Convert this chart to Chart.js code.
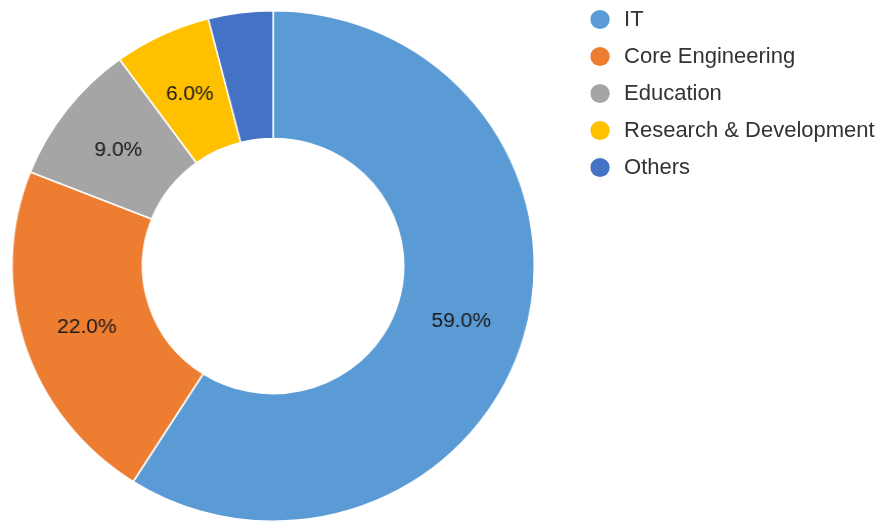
<!DOCTYPE html>
<html>
<head>
<meta charset="utf-8">
<script src="https://cdn.jsdelivr.net/npm/chart.js@4.4.1/dist/chart.umd.min.js"></script>
<style>
  html, body { margin: 0; padding: 0; background: #fff; overflow: hidden; }
  #wrap { position: relative; width: 880px; height: 523px; transform: scaleX(1.023); transform-origin: 0 0; }
  #legend { position: absolute; left: 577px; top: 4px; font-family: "Liberation Sans", Arial, sans-serif; font-size: 21.5px; color: #333; }
  #legend div { height: 37px; line-height: 30px; white-space: nowrap; }
  #legend span { display: inline-block; width: 19px; height: 19px; border-radius: 50%; vertical-align: -3px; margin-right: 14px; }
</style>
</head>
<body>
<div id="wrap">
  <canvas id="c" width="880" height="523"></canvas>
  <div id="legend"></div>
</div>
<script>
// ── Données ────────────────────────────────────────────
const LABELS = ['IT', 'Core Engineering', 'Education', 'Research & Development', 'Others'];
const VALUES = [59, 22, 9, 6, 4];
const COLORS = ['#5B9BD5', '#ED7D31', '#A5A5A5', '#FFC000', '#4472C4'];

// Pourcentages au milieu de l'anneau (cachés pour les petites tranches)
const pctLabels = {
  id: 'pctLabels',
  afterDatasetsDraw(chart) {
    const { ctx } = chart;
    const meta = chart.getDatasetMeta(0);
    const total = VALUES.reduce((a, b) => a + b, 0);
    ctx.save();
    ctx.font = '20.5px "Liberation Sans", Arial, sans-serif';
    ctx.fillStyle = '#1a1a1a';
    ctx.textAlign = 'center';
    ctx.textBaseline = 'middle';
    meta.data.forEach((arc, i) => {
      const pct = VALUES[i] / total * 100;
      if (pct < 5) return;
      const p = arc.tooltipPosition();
      ctx.fillText(pct.toFixed(1) + '%', p.x, p.y + 2);
    });
    ctx.restore();
  },
};

new Chart(document.getElementById('c'), {
  type: 'doughnut',
  plugins: [pctLabels],
  data: {
    labels: LABELS,
    datasets: [{
      data: VALUES,
      backgroundColor: COLORS,
      borderColor: '#ffffff',
      borderWidth: 1.5,
    }],
  },
  options: {
    responsive: false,
    animation: false,
    cutout: '50%',
    layout: { padding: { left: 11, right: 357, top: 9, bottom: 0 } },
    plugins: {
      legend: { display: false },
      tooltip: { enabled: false },
    },
  },
});

// Légende HTML
document.getElementById('legend').innerHTML = LABELS.map((l, i) =>
  `<div><span style="background:${COLORS[i]}"></span>${l.replace('&', '&amp;')}</div>`
).join('');
</script>
</body>
</html>
